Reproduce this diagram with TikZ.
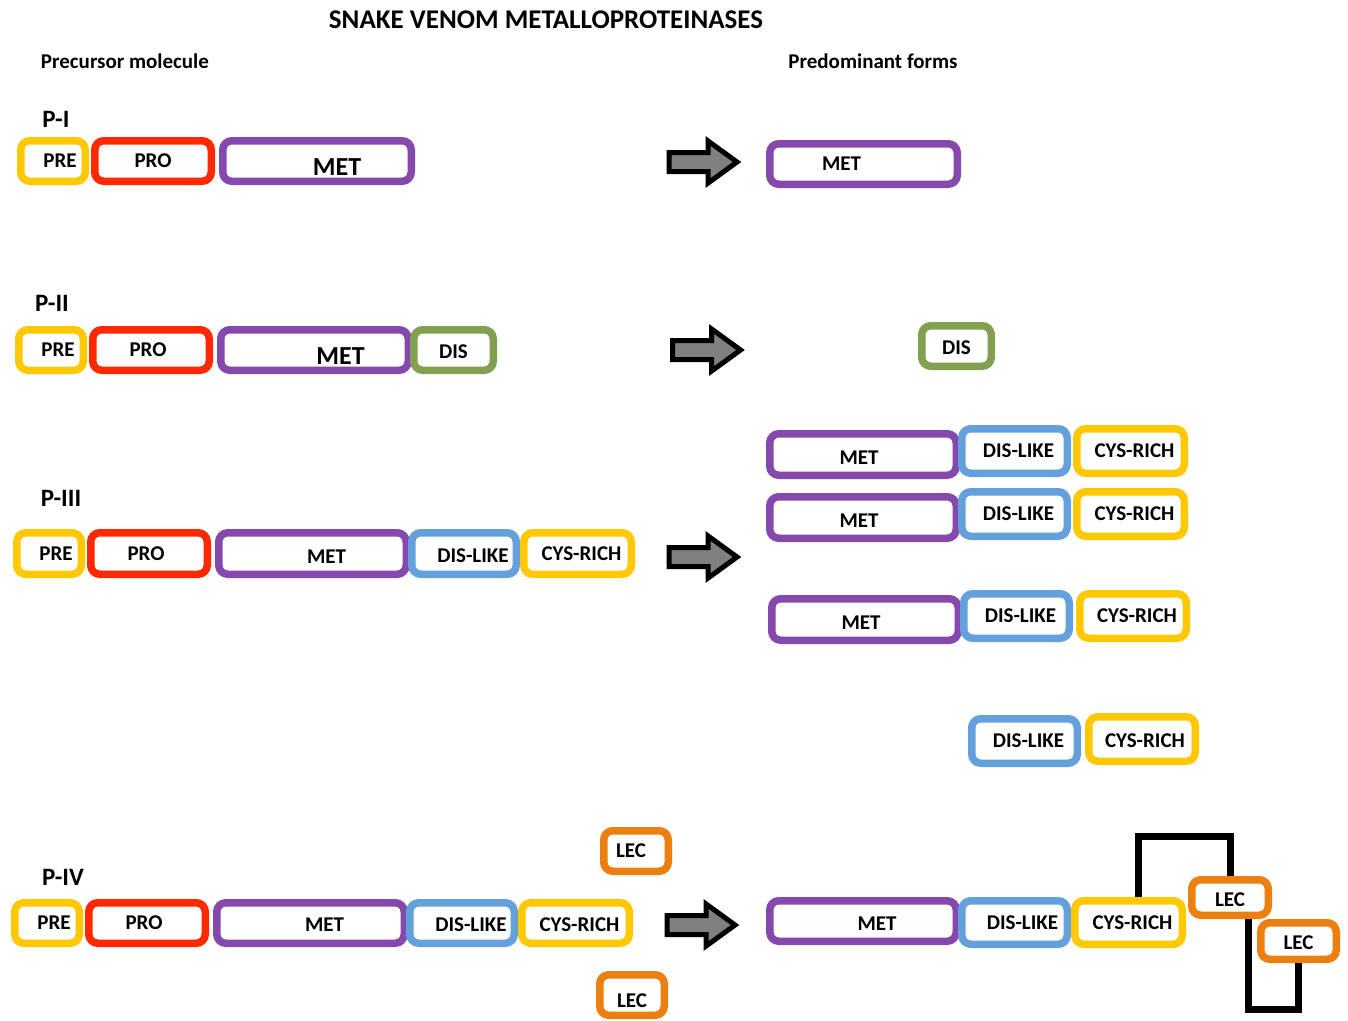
\documentclass[tikz,border=0pt]{standalone}
\usepackage{fontspec}
\setmainfont{Carlito}
\usetikzlibrary{shapes.arrows}
\definecolor{preY}{RGB}{255,200,0}
\definecolor{proR}{RGB}{255,40,0}
\definecolor{metP}{RGB}{133,73,173}
\definecolor{disB}{RGB}{100,160,220}
\definecolor{disG}{RGB}{130,160,80}
\definecolor{lecO}{RGB}{235,128,16}

\begin{document}
\begin{tikzpicture}[x=1pt,y=-1pt,
    seg/.style={draw=#1, line width=7.5pt, rounded corners=9pt, fill=white, inner sep=0pt,
      font=\bfseries\fontsize{21}{25}\selectfont, minimum height=40.5pt},
    tx/.style={execute at begin node={\hspace*{#1}}},
    ty/.style={text height=#1, text depth=0pt},
    bigmet/.style={font=\bfseries\fontsize{26}{30}\selectfont, text height=29pt, text depth=0pt},
    tag/.style={font=\bfseries\fontsize{25}{29}\selectfont},
    head/.style={font=\bfseries\fontsize{21}{25}\selectfont},
    fatarrow/.style={single arrow, draw=black, fill=gray, line width=5pt, inner xsep=0pt,
      inner ysep=7pt, single arrow head extend=11.5pt, single arrow tip angle=72, minimum height=68pt},
    bond/.style={draw=black, line width=7pt}]
    \useasboundingbox (0,0) rectangle (1348,1020);
    \node[font=\bfseries\fontsize{27}{31}\selectfont] (title) at (546,20) {SNAKE VENOM METALLOPROTEINASES};
    \node[head] (prec) at (125,61) {Precursor molecule};
    \node[head] (pred) at (873,61) {Predominant forms};
    \node[tag] (p1) at (56,119) {P-I};
    \node[tag] (p2) at (52,303) {P-II};
    \node[tag] (p3) at (61,498) {P-III};
    \node[tag] (p4) at (63,877) {P-IV};

    \node[seg=preY, minimum width=64.5pt, tx=14pt] (pre1) at (53,161) {PRE};
    \node[seg=proR, minimum width=116.5pt] (pro1) at (153,161) {PRO};
    \node[seg=metP, minimum width=188.5pt, bigmet, tx=40pt] (met1) at (317,161) {MET};

    \node[seg=preY, minimum width=64.5pt, tx=14pt] (pre2) at (51,350) {PRE};
    \node[seg=proR, minimum width=116.5pt, tx=-6pt] (pro2) at (151,350) {PRO};
    \node[seg=metP, minimum width=187.5pt, bigmet, tx=52pt] (met2) at (314.5,350) {MET};
    \node[seg=disG, minimum width=79.5pt, ty=17pt] (dis2) at (453.5,350) {DIS};

    \node[seg=preY, minimum width=64.5pt, minimum height=41.5pt, tx=14pt] (pre3) at (49,553.5) {PRE};
    \node[seg=proR, minimum width=116.5pt, minimum height=41.5pt, tx=-6pt] (pro3) at (149,553.5) {PRO};
    \node[seg=metP, minimum width=187.5pt, minimum height=41.5pt, tx=28pt, ty=19pt] (met3) at (312.5,553.5) {MET};
    \node[seg=disB, minimum width=104.5pt, minimum height=41.5pt, tx=18pt, ty=17pt] (dl3) at (464,553.5) {DIS-LIKE};
    \node[seg=preY, minimum width=107.5pt, minimum height=41.5pt, tx=8pt] (cr3) at (577.5,553.5) {CYS-RICH};

    \node[seg=preY, minimum width=64.5pt, tx=14pt] (pre4) at (47,923) {PRE};
    \node[seg=proR, minimum width=116.5pt, tx=-6pt] (pro4) at (147,923) {PRO};
    \node[seg=metP, minimum width=187.5pt, tx=28pt, ty=17pt] (met4) at (310.5,923) {MET};
    \node[seg=disB, minimum width=104.5pt, tx=18pt, ty=17pt] (dl4) at (462,923) {DIS-LIKE};
    \node[seg=preY, minimum width=107.5pt, tx=8pt, ty=17pt] (cr4) at (575.5,923) {CYS-RICH};
    \node[seg=lecO, minimum width=64.5pt, tx=-10pt] (lecU) at (636,851) {LEC};
    \node[seg=lecO, minimum width=64.5pt, ty=25.5pt] (lecD) at (632,995) {LEC};

    \node[fatarrow] (ar1) at (696.5,162) {};
    \node[fatarrow] (ar2) at (700,350) {};
    \node[fatarrow] (ar3) at (696.5,557) {};
    \node[fatarrow] (ar4) at (694.5,925) {};

    \node[seg=metP, minimum width=187.5pt, tx=-44pt] (rmet1) at (863.5,164) {MET};
    \node[seg=disG, minimum width=69.5pt, ty=17pt] (rdis2) at (956.5,346) {DIS};

    \node[seg=metP, minimum width=186.5pt, minimum height=41.5pt, tx=-8pt, ty=19pt] (rmet3a) at (863,454.5) {MET};
    \node[seg=disB, minimum width=105.5pt, minimum height=44.5pt, tx=8pt] (rdl3a) at (1014.5,451) {DIS-LIKE};
    \node[seg=preY, minimum width=107.5pt, minimum height=44.5pt, tx=8pt] (rcr3a) at (1130.5,451) {CYS-RICH};
    \node[seg=metP, minimum width=186.5pt, minimum height=41.5pt, tx=-8pt, ty=19pt] (rmet3b) at (863,517.5) {MET};
    \node[seg=disB, minimum width=105.5pt, minimum height=44.5pt, tx=8pt] (rdl3b) at (1014.5,514) {DIS-LIKE};
    \node[seg=preY, minimum width=107.5pt, minimum height=44.5pt, tx=8pt] (rcr3b) at (1130.5,514) {CYS-RICH};
    \node[seg=metP, minimum width=186.5pt, minimum height=41.5pt, tx=-8pt, ty=19pt] (rmet3c) at (865,619.5) {MET};
    \node[seg=disB, minimum width=105.5pt, minimum height=44.5pt, tx=8pt] (rdl3c) at (1016.5,616) {DIS-LIKE};
    \node[seg=preY, minimum width=106.5pt, minimum height=44.5pt, tx=8pt] (rcr3c) at (1133,616) {CYS-RICH};
    \node[seg=disB, minimum width=105.5pt, minimum height=44.5pt, tx=8pt] (rdl3d) at (1024.5,741) {DIS-LIKE};
    \node[seg=preY, minimum width=106.5pt, minimum height=44.5pt, tx=6pt, ty=17pt] (rcr3d) at (1142,739) {CYS-RICH};

    \node[seg=metP, minimum width=186.5pt, tx=28pt, ty=19pt] (rmet4) at (863,921) {MET};
    \node[seg=disB, minimum width=105.5pt, minimum height=43.5pt, tx=16pt] (rdl4) at (1014.5,922.5) {DIS-LIKE};
    \node[seg=preY, minimum width=107.5pt, minimum height=43.5pt, tx=8pt] (rcr4) at (1128.5,922.5) {CYS-RICH};
    \node[seg=lecO, minimum width=76.5pt, minimum height=35.5pt, ty=17pt] (rlecA) at (1230,897.5) {LEC};
    \node[seg=lecO, minimum width=75.5pt, minimum height=36.5pt, ty=17pt] (rlecB) at (1298.5,941) {LEC};

    \draw[bond] ([xshift=9.5pt]rcr4.north) |- ([yshift=40pt]rlecA.north) -- (rlecA.north);
    \draw[bond] ([xshift=18pt]rlecA.south) -- ++(0,-90pt) -| (rlecB.south);
\end{tikzpicture}
\end{document}
